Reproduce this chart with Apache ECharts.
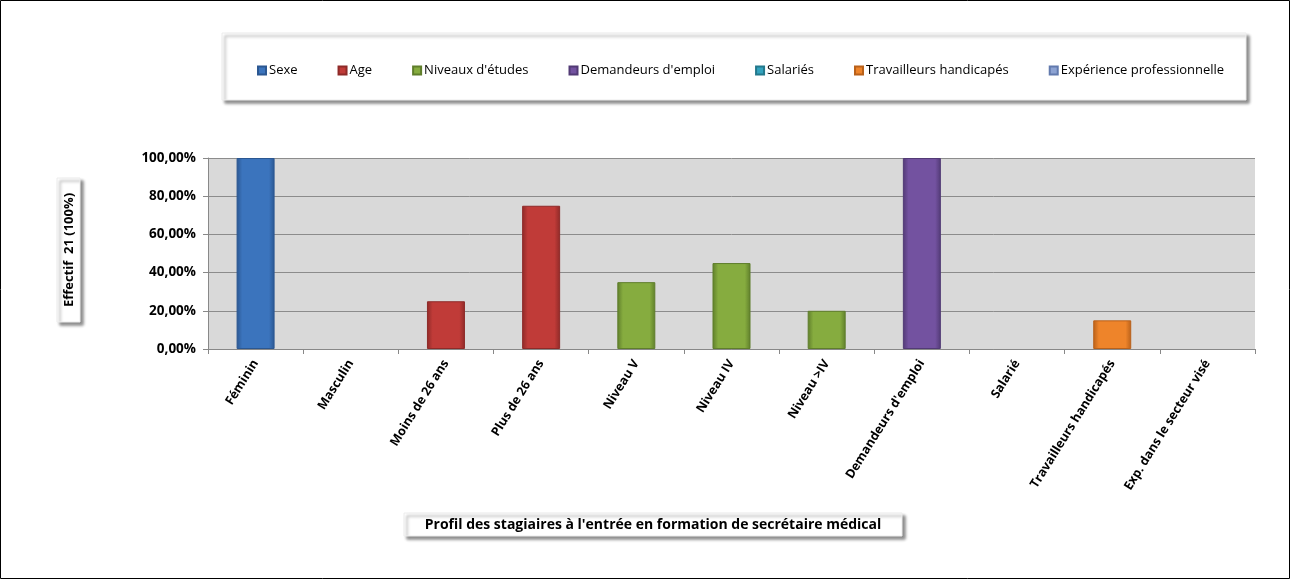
<!DOCTYPE html>
<html>
<head>
<meta charset="utf-8">
<script src="https://cdn.jsdelivr.net/npm/echarts@6/dist/echarts.min.js"></script>
<style>
  html, body { margin: 0; padding: 0; background: #fff; }
  #chart { width: 1290px; height: 579px; }
</style>
</head>
<body>
<div id="chart"></div>
<script>
// categories along the x axis
const categories = [
  'Féminin', 'Masculin', 'Moins de 26 ans', 'Plus de 26 ans',
  'Niveau V', 'Niveau IV', 'Niveau >IV', "Demandeurs d'emploi",
  'Salarié', 'Travailleurs handicapés', 'Exp. dans le secteur visé'
]

// one array per legend group (percent), null where the group has no bar
const sexe         = [100, 0, null, null, null, null, null, null, null, null, null]
const age          = [null, null, 25, 75, null, null, null, null, null, null, null]
const niveaux      = [null, null, null, null, 35, 45, 20, null, null, null, null]
const demandeurs   = [null, null, null, null, null, null, null, 100, null, null, null]
const salaries     = [null, null, null, null, null, null, null, null, 0, null, null]
const handicapes   = [null, null, null, null, null, null, null, null, null, 15, null]
const experience   = [null, null, null, null, null, null, null, null, null, null, 0]

const yTicks = [0, 20, 40, 60, 80, 100]

const font = '"Open Sans", "Noto Sans", sans-serif'

function grad(light, dark) {
  return new echarts.graphic.LinearGradient(0, 0, 1, 0, [
    { offset: 0, color: dark },
    { offset: 0.15, color: light },
    { offset: 0.85, color: light },
    { offset: 1, color: dark },
  ])
}

const groups = [
  { name: 'Sexe', data: sexe, light: '#3B74BD', dark: '#2B5791' },
  { name: 'Age', data: age, light: '#C03B38', dark: '#8E2A28' },
  { name: "Niveaux d'études", data: niveaux, light: '#86AC3F', dark: '#5F7E2B' },
  { name: "Demandeurs d'emploi", data: demandeurs, light: '#7352A0', dark: '#523A75' },
  { name: 'Salariés', data: salaries, light: '#33A3BE', dark: '#23788C' },
  { name: 'Travailleurs handicapés', data: handicapes, light: '#EE842A', dark: '#B9611A' },
  { name: 'Expérience professionnelle', data: experience, light: '#8DA3D3', dark: '#627AAE' },
]

const shadow = { shadowColor: 'rgba(0,0,0,0.45)', shadowBlur: 3, shadowOffsetX: 3, shadowOffsetY: 3 }

const chart = echarts.init(document.getElementById('chart'))

chart.setOption({
  backgroundColor: '#fff',
  animation: false,
  textStyle: { fontFamily: font },
  graphic: [
    // outer frame
    { type: 'rect', shape: { x: 0.5, y: 0.5, width: 1289, height: 578 },
      style: { fill: 'none', stroke: '#000', lineWidth: 1 }, z: -10 },
    // legend box
    { type: 'rect', shape: { x: 222, y: 33, width: 1024, height: 67 },
      style: Object.assign({ fill: '#fff', stroke: '#ececec', lineWidth: 1 }, shadow), z: -5 },
    // y axis title box
    { type: 'rect', shape: { x: 57, y: 178, width: 23, height: 144 },
      style: Object.assign({ fill: '#fff', stroke: '#ececec', lineWidth: 1 }, shadow), z: -5 },
    { type: 'text', x: 69, y: 250, rotation: Math.PI / 2,
      style: { text: 'Effectif  21 (100%)', font: 'bold 13px ' + font, fill: '#000',
        align: 'center', verticalAlign: 'middle' } },
    // x axis title box
    { type: 'rect', shape: { x: 404, y: 513, width: 498, height: 23 },
      style: Object.assign({ fill: '#fff', stroke: '#ececec', lineWidth: 1 }, shadow), z: -5 },
    { type: 'text', x: 653, y: 525,
      style: { text: "Profil des stagiaires à l'entrée en formation de secrétaire médical",
        font: 'bold 14px ' + font, fill: '#000', align: 'center', verticalAlign: 'middle' } },
  ],
  legend: {
    top: 59,
    left: 252,
    itemWidth: 8,
    itemHeight: 8,
    itemGap: 40,
    icon: 'rect',
    textStyle: { fontSize: 13, color: '#000', padding: [0, 0, 0, -2] },
    data: groups.map(g => g.name),
  },
  grid: { left: 208, right: 35, top: 158, bottom: 230, show: true,
    backgroundColor: '#D9D9D9', borderWidth: 0 },
  xAxis: {
    type: 'category',
    data: categories,
    axisLine: { lineStyle: { color: '#888', width: 1 } },
    axisTick: { show: true, alignWithLabel: false, length: 5, lineStyle: { color: '#888' } },
    axisLabel: { rotate: 58, interval: 0, fontSize: 12.5, fontWeight: 'bold', color: '#000', margin: 12 },
  },
  yAxis: {
    type: 'value',
    min: 0, max: 100, interval: 20,
    axisLine: { show: true, lineStyle: { color: '#888' } },
    axisTick: { show: true, length: 5, lineStyle: { color: '#888' } },
    axisLabel: { fontSize: 13.5, fontWeight: 'bold', color: '#000', margin: 12,
      formatter: v => yTicks.includes(v) ? v.toFixed(2).replace('.', ',') + '%' : '' },
    splitLine: { lineStyle: { color: '#8C8C8C', width: 1 } },
  },
  series: groups.map(g => ({
    name: g.name,
    type: 'bar',
    stack: 'all',
    barWidth: 38,
    data: g.data.map(v => v === 0 ? { value: 0, itemStyle: { borderWidth: 0, opacity: 0 } } : v),
    itemStyle: { color: grad(g.light, g.dark), borderColor: g.dark, borderWidth: 1 },
  })),
})
</script>
</body>
</html>
